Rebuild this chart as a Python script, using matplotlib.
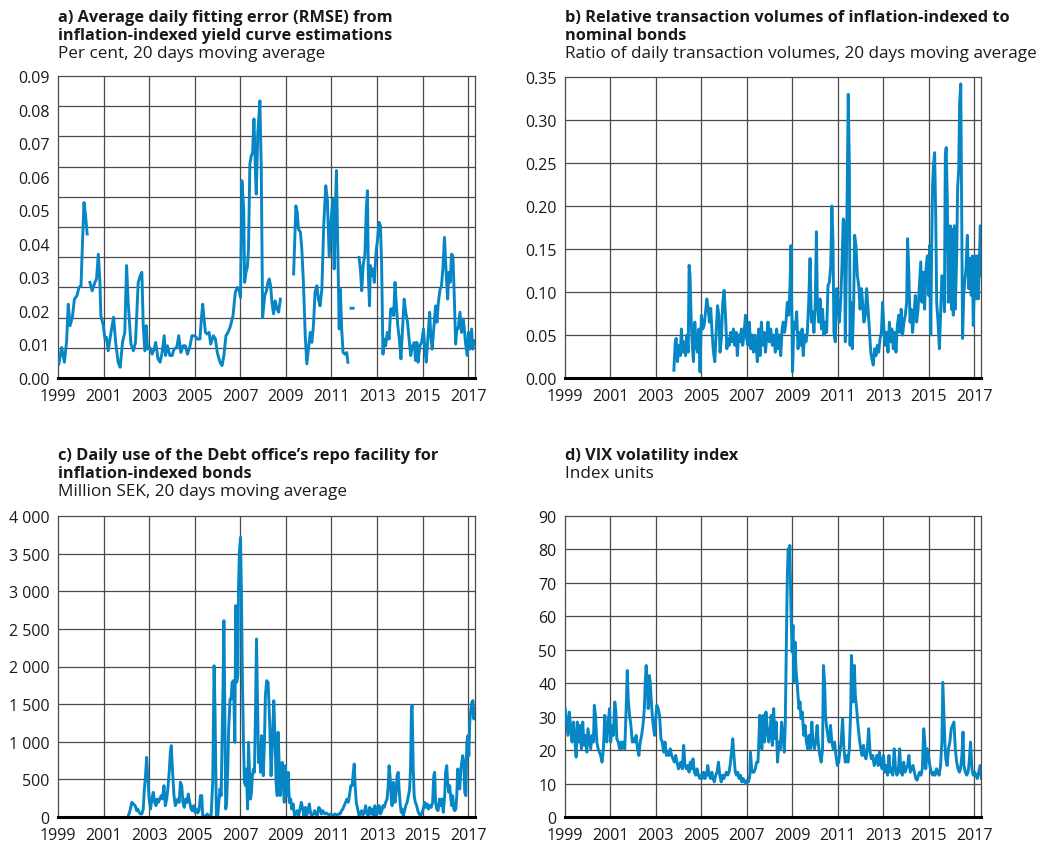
import matplotlib
matplotlib.use('Agg')
import matplotlib.pyplot as plt

nan = float('nan')

# ---------------- data ----------------
x_ticks = [1999, 2001, 2003, 2005, 2007, 2009, 2011, 2013, 2015, 2017]

# a) RMSE, per cent
a_years = [1999.04, 1999.16, 1999.28, 1999.38, 1999.45, 1999.53, 1999.63, 1999.72, 1999.83, 1999.92,
           2000.01, 2000.07, 2000.14, 2000.21, 2000.28, 2000.34,
           2000.40, 2000.50, 2000.62, 2000.69, 2000.77, 2000.84, 2000.88, 2000.99, 2001.06, 2001.13,
           2001.20, 2001.28, 2001.35, 2001.44, 2001.53, 2001.64, 2001.73, 2001.83, 2001.93, 2002.01,
           2002.08, 2002.20, 2002.31, 2002.40, 2002.52, 2002.61, 2002.68, 2002.74, 2002.81, 2002.87,
           2002.93, 2003.03, 2003.13, 2003.22, 2003.29, 2003.39, 2003.48, 2003.57, 2003.66, 2003.72,
           2003.80, 2003.91, 2004.01, 2004.09, 2004.21, 2004.30, 2004.39, 2004.49, 2004.59, 2004.68,
           2004.78, 2004.88, 2005.00, 2005.12, 2005.23, 2005.29, 2005.35, 2005.41, 2005.47, 2005.55,
           2005.63, 2005.70, 2005.82, 2005.91, 2005.99, 2006.11, 2006.20, 2006.28, 2006.37, 2006.46,
           2006.55, 2006.61, 2006.68, 2006.78, 2006.87, 2006.94, 2007.01, 2007.07, 2007.15, 2007.19,
           2007.25, 2007.31, 2007.36, 2007.42, 2007.48, 2007.54, 2007.60, 2007.66, 2007.70, 2007.77,
           2007.86, 2007.92, 2007.98, 2008.07, 2008.15, 2008.21, 2008.27, 2008.33, 2008.39, 2008.46,
           2008.53, 2008.61, 2008.68, 2008.76, 2009.00,
           2009.34, 2009.38, 2009.44, 2009.50, 2009.55, 2009.64, 2009.70, 2009.77, 2009.85, 2009.92,
           2009.99, 2010.07, 2010.14, 2010.21, 2010.28, 2010.36, 2010.43, 2010.50, 2010.58, 2010.66,
           2010.75, 2010.82, 2010.90, 2010.99, 2011.06, 2011.12, 2011.18, 2011.22, 2011.28, 2011.34,
           2011.39, 2011.45, 2011.51, 2011.60, 2011.67, 2011.72, 2011.80,
           2011.86, 2011.95, 2012.10,
           2012.21, 2012.27, 2012.33, 2012.39, 2012.47, 2012.53, 2012.58, 2012.62, 2012.67, 2012.71,
           2012.77, 2012.82, 2012.88, 2012.96, 2013.01, 2013.09, 2013.15, 2013.20, 2013.26, 2013.31,
           2013.38, 2013.45, 2013.53, 2013.60, 2013.67, 2013.73, 2013.79, 2013.85, 2013.91, 2013.98,
           2014.05, 2014.12, 2014.19, 2014.26, 2014.34, 2014.42, 2014.48, 2014.56, 2014.64, 2014.69,
           2014.75, 2014.80, 2014.88, 2014.96, 2015.04, 2015.10, 2015.16, 2015.25, 2015.31, 2015.36,
           2015.42, 2015.48, 2015.57, 2015.63, 2015.69, 2015.77, 2015.83, 2015.89, 2015.96, 2016.04,
           2016.10, 2016.15, 2016.21, 2016.27, 2016.33, 2016.39, 2016.45, 2016.50, 2016.56, 2016.64,
           2016.71, 2016.77, 2016.82, 2016.88, 2016.96, 2017.01, 2017.07, 2017.15, 2017.20, 2017.26]
a_vals = [0.0042, 0.0091, 0.0047, 0.0111, 0.0220, 0.0156, 0.0181, 0.0235, 0.0245, 0.0270,
          0.0275, 0.0394, 0.0523, 0.0484, 0.0429, nan,
          0.0285, 0.0260, 0.0285, 0.0295, 0.0369, 0.0285, 0.0186, 0.0156, 0.0116, 0.0121,
          0.0081, 0.0116, 0.0146, 0.0181, 0.0106, 0.0047, 0.0032, 0.0106, 0.0136, 0.0335,
          0.0225, 0.0101, 0.0081, 0.0106, 0.0285, 0.0305, 0.0315, 0.0156, 0.0081, 0.0156,
          0.0086, 0.0091, 0.0071, 0.0086, 0.0106, 0.0057, 0.0047, 0.0076, 0.0126, 0.0067,
          0.0096, 0.0067, 0.0067, 0.0086, 0.0091, 0.0126, 0.0076, 0.0096, 0.0096, 0.0071,
          0.0091, 0.0126, 0.0126, 0.0116, 0.0116, 0.0176, 0.0220, 0.0176, 0.0136, 0.0131,
          0.0136, 0.0101, 0.0126, 0.0116, 0.0076, 0.0047, 0.0037, 0.0067, 0.0126, 0.0136,
          0.0151, 0.0166, 0.0186, 0.0255, 0.0270, 0.0265, 0.0240, 0.0588, 0.0503, 0.0285,
          0.0315, 0.0330, 0.0384, 0.0637, 0.0662, 0.0672, 0.0772, 0.0623, 0.0548, 0.0732,
          0.0826, 0.0623, 0.0181, 0.0245, 0.0260, 0.0285, 0.0295, 0.0275, 0.0225, 0.0191,
          0.0230, 0.0206, 0.0196, 0.0235, nan,
          0.0310, 0.0394, 0.0513, 0.0494, 0.0444, 0.0434, 0.0384, 0.0285, 0.0126, 0.0042,
          0.0086, 0.0136, 0.0106, 0.0156, 0.0255, 0.0275, 0.0235, 0.0215, 0.0265, 0.0454,
          0.0573, 0.0533, 0.0364, 0.0474, 0.0533, 0.0325, 0.0523, 0.0618, 0.0374, 0.0146,
          0.0265, 0.0146, 0.0076, 0.0071, 0.0076, 0.0047, nan,
          0.0208, 0.0208, nan,
          0.0359, 0.0325, 0.0260, 0.0335, 0.0369, 0.0503, 0.0558, 0.0305, 0.0215, 0.0335,
          0.0305, 0.0325, 0.0285, 0.0379, 0.0404, 0.0464, 0.0454, 0.0345, 0.0071, 0.0116,
          0.0096, 0.0136, 0.0116, 0.0206, 0.0206, 0.0186, 0.0285, 0.0215, 0.0156, 0.0116,
          0.0057, 0.0146, 0.0235, 0.0196, 0.0166, 0.0106, 0.0067, 0.0096, 0.0106, 0.0052,
          0.0106, 0.0047, 0.0096, 0.0106, 0.0146, 0.0086, 0.0047, 0.0136, 0.0196, 0.0126,
          0.0086, 0.0136, 0.0215, 0.0166, 0.0225, 0.0265, 0.0275, 0.0325, 0.0419, 0.0305,
          0.0235, 0.0315, 0.0285, 0.0369, 0.0364, 0.0245, 0.0101, 0.0146, 0.0146, 0.0196,
          0.0136, 0.0176, 0.0156, 0.0106, 0.0067, 0.0136, 0.0086, 0.0146, 0.0086, 0.0111]

# b) ratio of transaction volumes
b_years = [2003.79, 2003.85, 2003.89, 2003.95, 2004.01, 2004.07, 2004.12, 2004.18, 2004.24, 2004.30,
           2004.36, 2004.42, 2004.46, 2004.50, 2004.55, 2004.59, 2004.65, 2004.71, 2004.77, 2004.83,
           2004.89, 2004.94, 2005.00, 2005.06, 2005.12, 2005.18, 2005.24, 2005.30, 2005.35, 2005.41,
           2005.47, 2005.53, 2005.59, 2005.65, 2005.71, 2005.77, 2005.82, 2005.88, 2005.94, 2006.00,
           2006.06, 2006.12, 2006.17, 2006.23, 2006.29, 2006.35, 2006.41, 2006.47, 2006.53, 2006.58,
           2006.64, 2006.70, 2006.76, 2006.82, 2006.88, 2006.94, 2006.99, 2007.05, 2007.11, 2007.17,
           2007.23, 2007.29, 2007.35, 2007.40, 2007.46, 2007.52, 2007.58, 2007.64, 2007.70, 2007.76,
           2007.82, 2007.88, 2007.93, 2007.99, 2008.05, 2008.12, 2008.19, 2008.25, 2008.31, 2008.37,
           2008.43, 2008.49, 2008.55, 2008.60, 2008.66, 2008.72, 2008.78, 2008.84, 2008.90, 2008.94,
           2008.99, 2009.01, 2009.07, 2009.13, 2009.19, 2009.25, 2009.31, 2009.37, 2009.43, 2009.48,
           2009.54, 2009.60, 2009.66, 2009.72, 2009.78, 2009.84, 2009.89, 2009.95, 2010.01, 2010.06,
           2010.10, 2010.16, 2010.22, 2010.28, 2010.33, 2010.39, 2010.45, 2010.51, 2010.57, 2010.63,
           2010.69, 2010.74, 2010.79, 2010.83, 2010.89, 2010.95, 2011.01, 2011.07, 2011.13, 2011.18,
           2011.24, 2011.29, 2011.33, 2011.38, 2011.42, 2011.46, 2011.51, 2011.54, 2011.58, 2011.64,
           2011.70, 2011.74, 2011.80, 2011.86, 2011.92, 2011.98, 2012.04, 2012.09, 2012.15, 2012.21,
           2012.27, 2012.33, 2012.39, 2012.45, 2012.50, 2012.56, 2012.62, 2012.68, 2012.74, 2012.80,
           2012.86, 2012.92, 2012.97, 2013.03, 2013.09, 2013.15, 2013.21, 2013.27, 2013.33, 2013.38,
           2013.44, 2013.50, 2013.56, 2013.62, 2013.68, 2013.74, 2013.79, 2013.85, 2013.91, 2013.97,
           2014.03, 2014.07, 2014.12, 2014.18, 2014.23, 2014.29, 2014.35, 2014.41, 2014.47, 2014.53,
           2014.59, 2014.65, 2014.70, 2014.76, 2014.82, 2014.88, 2014.94, 2015.00, 2015.04, 2015.09,
           2015.13, 2015.17, 2015.22, 2015.26, 2015.31, 2015.35, 2015.41, 2015.47, 2015.52, 2015.58,
           2015.64, 2015.69, 2015.73, 2015.77, 2015.82, 2015.86, 2015.91, 2015.95, 2016.00, 2016.04,
           2016.08, 2016.13, 2016.17, 2016.23, 2016.27, 2016.32, 2016.36, 2016.41, 2016.45, 2016.49,
           2016.54, 2016.58, 2016.64, 2016.70, 2016.76, 2016.82, 2016.87, 2016.92, 2016.96, 2017.01,
           2017.05, 2017.09, 2017.14, 2017.18, 2017.22, 2017.27, 2017.30]
b_vals = [0.009, 0.042, 0.046, 0.019, 0.038, 0.026, 0.057, 0.030, 0.042, 0.026,
          0.050, 0.030, 0.131, 0.119, 0.069, 0.042, 0.019, 0.065, 0.038, 0.030,
          0.057, 0.007, 0.073, 0.057, 0.061, 0.077, 0.092, 0.081, 0.065, 0.081,
          0.053, 0.030, 0.019, 0.053, 0.084, 0.073, 0.030, 0.046, 0.088, 0.102,
          0.073, 0.034, 0.046, 0.038, 0.053, 0.042, 0.057, 0.038, 0.053, 0.026,
          0.050, 0.042, 0.057, 0.038, 0.053, 0.073, 0.046, 0.038, 0.065, 0.034,
          0.050, 0.030, 0.050, 0.042, 0.019, 0.057, 0.026, 0.065, 0.038, 0.053,
          0.030, 0.050, 0.065, 0.042, 0.057, 0.038, 0.050, 0.030, 0.057, 0.034,
          0.050, 0.026, 0.057, 0.065, 0.053, 0.065, 0.088, 0.073, 0.108, 0.154,
          0.053, 0.007, 0.065, 0.057, 0.077, 0.034, 0.053, 0.038, 0.057, 0.026,
          0.050, 0.042, 0.053, 0.088, 0.139, 0.065, 0.077, 0.053, 0.088, 0.170,
          0.088, 0.065, 0.092, 0.057, 0.080, 0.050, 0.065, 0.053, 0.108, 0.111,
          0.131, 0.200, 0.158, 0.053, 0.042, 0.104, 0.088, 0.065, 0.092, 0.127,
          0.185, 0.181, 0.042, 0.135, 0.231, 0.330, 0.243, 0.038, 0.088, 0.034,
          0.088, 0.166, 0.154, 0.119, 0.108, 0.080, 0.104, 0.088, 0.065, 0.073,
          0.104, 0.080, 0.057, 0.030, 0.022, 0.015, 0.034, 0.026, 0.038, 0.030,
          0.046, 0.053, 0.088, 0.057, 0.038, 0.053, 0.030, 0.065, 0.042, 0.057,
          0.034, 0.053, 0.030, 0.061, 0.073, 0.053, 0.080, 0.050, 0.065, 0.073,
          0.088, 0.162, 0.127, 0.065, 0.080, 0.053, 0.073, 0.096, 0.065, 0.080,
          0.108, 0.135, 0.088, 0.123, 0.080, 0.127, 0.142, 0.096, 0.154, 0.050,
          0.154, 0.224, 0.251, 0.262, 0.185, 0.088, 0.065, 0.034, 0.073, 0.119,
          0.115, 0.077, 0.259, 0.268, 0.204, 0.088, 0.119, 0.177, 0.080, 0.173,
          0.073, 0.177, 0.080, 0.142, 0.220, 0.243, 0.320, 0.342, 0.197, 0.046,
          0.096, 0.111, 0.127, 0.166, 0.104, 0.139, 0.096, 0.142, 0.061, 0.111,
          0.142, 0.092, 0.142, 0.092, 0.127, 0.177, 0.119]

# c) repo facility use, million SEK
c_years = [2002.09, 2002.16, 2002.24, 2002.31, 2002.39, 2002.45, 2002.50, 2002.56, 2002.62, 2002.68,
           2002.74, 2002.78, 2002.84, 2002.89, 2002.94, 2003.00, 2003.06, 2003.12, 2003.18, 2003.24,
           2003.30, 2003.35, 2003.41, 2003.47, 2003.53, 2003.59, 2003.65, 2003.71, 2003.77, 2003.82,
           2003.88, 2003.93, 2003.97, 2004.03, 2004.09, 2004.15, 2004.21, 2004.26, 2004.32, 2004.37,
           2004.43, 2004.48, 2004.54, 2004.60, 2004.66, 2004.72, 2004.78, 2004.84, 2004.89, 2004.95,
           2005.01, 2005.07, 2005.13, 2005.19, 2005.25, 2005.31, 2005.35, 2005.41, 2005.50, 2005.55,
           2005.64, 2005.72, 2005.79, 2005.85, 2005.89, 2005.95, 2006.01, 2006.07, 2006.11, 2006.16,
           2006.20, 2006.25, 2006.28, 2006.32, 2006.36, 2006.40, 2006.45, 2006.49, 2006.55, 2006.60,
           2006.64, 2006.70, 2006.76, 2006.80, 2006.84, 2006.89, 2006.92, 2006.96, 2007.01, 2007.05,
           2007.09, 2007.14, 2007.18, 2007.23, 2007.27, 2007.32, 2007.36, 2007.40, 2007.45, 2007.49,
           2007.53, 2007.58, 2007.62, 2007.67, 2007.71, 2007.75, 2007.80, 2007.84, 2007.89, 2007.93,
           2007.97, 2008.01, 2008.06, 2008.10, 2008.16, 2008.22, 2008.29, 2008.35, 2008.41, 2008.47,
           2008.53, 2008.57, 2008.62, 2008.66, 2008.71, 2008.75, 2008.79, 2008.84, 2008.88, 2008.93,
           2008.97, 2009.01, 2009.06, 2009.10, 2009.15, 2009.21, 2009.26, 2009.32, 2009.38, 2009.44,
           2009.50, 2009.56, 2009.62, 2009.68, 2009.74, 2009.79, 2009.85, 2009.91, 2009.97, 2010.03,
           2010.09, 2010.15, 2010.21, 2010.26, 2010.32, 2010.38, 2010.44, 2010.50, 2010.56, 2010.62,
           2010.71, 2010.79, 2010.88, 2010.97, 2011.06, 2011.15, 2011.24, 2011.32, 2011.38, 2011.44,
           2011.50, 2011.56, 2011.62, 2011.68, 2011.74, 2011.79, 2011.85, 2011.91, 2011.96, 2012.00,
           2012.04, 2012.09, 2012.15, 2012.21, 2012.26, 2012.32, 2012.38, 2012.44, 2012.50, 2012.56,
           2012.62, 2012.68, 2012.74, 2012.79, 2012.85, 2012.91, 2012.97, 2013.03, 2013.09, 2013.15,
           2013.21, 2013.26, 2013.32, 2013.38, 2013.44, 2013.49, 2013.53, 2013.57, 2013.62, 2013.66,
           2013.71, 2013.75, 2013.79, 2013.84, 2013.88, 2013.93, 2013.97, 2014.01, 2014.06, 2014.10,
           2014.15, 2014.21, 2014.26, 2014.32, 2014.38, 2014.43, 2014.47, 2014.51, 2014.54, 2014.59,
           2014.63, 2014.68, 2014.74, 2014.79, 2014.85, 2014.91, 2014.97, 2015.03, 2015.09, 2015.15,
           2015.21, 2015.26, 2015.32, 2015.38, 2015.44, 2015.49, 2015.53, 2015.57, 2015.62, 2015.68,
           2015.74, 2015.79, 2015.85, 2015.91, 2015.97, 2016.01, 2016.06, 2016.10, 2016.15, 2016.19,
           2016.24, 2016.28, 2016.32, 2016.37, 2016.41, 2016.46, 2016.50, 2016.54, 2016.59, 2016.63,
           2016.68, 2016.72, 2016.76, 2016.81, 2016.85, 2016.90, 2016.94, 2016.99, 2017.03, 2017.07,
           2017.12, 2017.16, 2017.21, 2017.25, 2017.29]
c_vals = [18, 84, 195, 173, 150, 84, 106, 62, 40, 40,
          106, 328, 549, 793, 549, 239, 106, 239, 328, 195,
          150, 239, 195, 239, 284, 239, 416, 150, 239, 372,
          594, 859, 948, 594, 284, 150, 195, 239, 195, 461,
          416, 195, 128, 239, 195, 306, 195, 106, 84, 150,
          62, 106, 53, 84, 284, 284, 18, 9, 18, 40,
          9, 18, 461, 2011, 1435, 18, 9, 239, 372, 284,
          992, 1878, 2609, 1435, 106, 195, 638, 1169, 1568, 1568,
          1790, 1812, 992, 2809, 1790, 1878, 3030, 3517, 3717, 2986,
          1878, 992, 461, 416, 638, 106, 992, 638, 239, 328,
          549, 638, 594, 1435, 2366, 1612, 726, 904, 594, 1081,
          992, 549, 992, 1612, 1812, 1790, 1258, 549, 992, 1546,
          992, 461, 284, 1125, 682, 284, 594, 726, 461, 195,
          682, 461, 284, 594, 195, 239, 106, 173, 18, 40,
          84, 18, 106, 195, 106, 18, 128, 18, 84, 173,
          40, 18, 40, 84, 40, 18, 128, 106, 40, 84,
          40, 53, 27, 40, 18, 40, 27, 40, 40, 84,
          106, 150, 195, 239, 195, 284, 416, 416, 594, 704,
          416, 195, 106, 18, 40, 84, 27, 62, 150, 40,
          18, 128, 40, 106, 18, 150, 27, 62, 150, 40,
          84, 150, 128, 195, 239, 416, 682, 549, 284, 150,
          461, 284, 195, 328, 549, 594, 372, 195, 62, 106,
          18, 84, 150, 195, 284, 372, 638, 1435, 1480, 638,
          284, 195, 150, 84, 40, 18, 53, 106, 195, 128,
          173, 106, 150, 128, 195, 549, 594, 195, 106, 84,
          239, 150, 239, 62, 284, 594, 682, 461, 328, 416,
          239, 150, 284, 106, 84, 106, 284, 638, 505, 372,
          638, 726, 815, 726, 328, 284, 992, 1081, 815, 1258,
          1435, 1524, 1546, 1302, 1435]

# d) VIX index
d_years = [1999.01, 1999.07, 1999.13, 1999.19, 1999.25, 1999.31, 1999.37, 1999.43, 1999.49, 1999.54,
           1999.60, 1999.66, 1999.72, 1999.78, 1999.84, 1999.90, 1999.96, 2000.01, 2000.07, 2000.13,
           2000.19, 2000.25, 2000.29, 2000.34, 2000.40, 2000.46, 2000.51, 2000.57, 2000.63, 2000.69,
           2000.75, 2000.79, 2000.84, 2000.90, 2000.96, 2001.01, 2001.07, 2001.13, 2001.19, 2001.24,
           2001.28, 2001.34, 2001.40, 2001.46, 2001.51, 2001.57, 2001.63, 2001.69, 2001.74, 2001.78,
           2001.84, 2001.90, 2001.96, 2002.01, 2002.07, 2002.13, 2002.19, 2002.25, 2002.31, 2002.37,
           2002.43, 2002.49, 2002.53, 2002.57, 2002.62, 2002.66, 2002.71, 2002.75, 2002.79, 2002.84,
           2002.88, 2002.94, 2003.00, 2003.04, 2003.10, 2003.16, 2003.22, 2003.28, 2003.34, 2003.40,
           2003.46, 2003.51, 2003.57, 2003.63, 2003.69, 2003.75, 2003.81, 2003.87, 2003.93, 2003.99,
           2004.04, 2004.10, 2004.16, 2004.22, 2004.28, 2004.34, 2004.40, 2004.46, 2004.51, 2004.57,
           2004.63, 2004.69, 2004.75, 2004.81, 2004.87, 2004.93, 2004.99, 2005.04, 2005.10, 2005.16,
           2005.22, 2005.28, 2005.34, 2005.40, 2005.46, 2005.51, 2005.57, 2005.63, 2005.69, 2005.75,
           2005.81, 2005.87, 2005.93, 2005.99, 2006.04, 2006.10, 2006.16, 2006.22, 2006.28, 2006.34,
           2006.38, 2006.43, 2006.49, 2006.54, 2006.60, 2006.66, 2006.72, 2006.78, 2006.84, 2006.90,
           2006.96, 2007.01, 2007.07, 2007.13, 2007.16, 2007.21, 2007.25, 2007.31, 2007.37, 2007.43,
           2007.49, 2007.53, 2007.57, 2007.62, 2007.66, 2007.72, 2007.78, 2007.84, 2007.90, 2007.96,
           2008.01, 2008.07, 2008.12, 2008.18, 2008.23, 2008.29, 2008.35, 2008.41, 2008.47, 2008.53,
           2008.59, 2008.65, 2008.69, 2008.73, 2008.78, 2008.82, 2008.86, 2008.89, 2008.94, 2008.99,
           2009.03, 2009.07, 2009.12, 2009.16, 2009.21, 2009.25, 2009.29, 2009.34, 2009.38, 2009.44,
           2009.50, 2009.56, 2009.62, 2009.68, 2009.74, 2009.80, 2009.86, 2009.91, 2009.97, 2010.03,
           2010.09, 2010.15, 2010.21, 2010.27, 2010.33, 2010.37, 2010.42, 2010.46, 2010.50, 2010.56,
           2010.62, 2010.68, 2010.74, 2010.80, 2010.86, 2010.92, 2010.98, 2011.04, 2011.09, 2011.15,
           2011.21, 2011.27, 2011.33, 2011.39, 2011.45, 2011.51, 2011.57, 2011.60, 2011.64, 2011.68,
           2011.73, 2011.77, 2011.83, 2011.89, 2011.95, 2012.01, 2012.07, 2012.13, 2012.19, 2012.24,
           2012.30, 2012.36, 2012.42, 2012.48, 2012.54, 2012.60, 2012.66, 2012.72, 2012.78, 2012.83,
           2012.89, 2012.95, 2013.01, 2013.07, 2013.13, 2013.19, 2013.25, 2013.31, 2013.37, 2013.42,
           2013.48, 2013.54, 2013.60, 2013.66, 2013.72, 2013.78, 2013.84, 2013.90, 2013.96, 2014.01,
           2014.07, 2014.13, 2014.19, 2014.25, 2014.31, 2014.37, 2014.43, 2014.49, 2014.55, 2014.60,
           2014.66, 2014.72, 2014.78, 2014.83, 2014.87, 2014.93, 2014.99, 2015.05, 2015.11, 2015.17,
           2015.22, 2015.28, 2015.34, 2015.40, 2015.46, 2015.52, 2015.58, 2015.62, 2015.67, 2015.71,
           2015.75, 2015.81, 2015.87, 2015.93, 2015.99, 2016.05, 2016.11, 2016.17, 2016.23, 2016.29,
           2016.35, 2016.40, 2016.46, 2016.51, 2016.55, 2016.61, 2016.67, 2016.73, 2016.78, 2016.84,
           2016.90, 2016.96, 2017.02, 2017.08, 2017.14, 2017.20, 2017.26, 2017.32]
d_vals = [32.4, 28.4, 24.4, 31.4, 26.4, 22.4, 28.4, 23.4, 17.9, 28.4,
          22.4, 27.4, 20.4, 28.4, 21.4, 24.4, 19.4, 26.4, 23.4, 20.4,
          24.4, 22.4, 33.4, 30.4, 22.4, 20.4, 19.4, 18.4, 16.4, 20.4,
          30.4, 26.4, 22.4, 28.4, 32.4, 22.4, 27.4, 24.4, 34.4, 31.4,
          23.4, 22.4, 20.4, 22.4, 20.4, 22.4, 20.4, 32.4, 43.8, 35.4,
          30.4, 27.4, 22.4, 23.4, 22.4, 24.4, 20.4, 18.4, 22.4, 24.4,
          27.4, 32.4, 40.3, 45.3, 39.3, 32.4, 42.3, 40.3, 35.4, 30.4,
          27.4, 24.4, 30.4, 33.4, 32.4, 30.4, 23.4, 22.4, 19.4, 22.4,
          18.4, 19.4, 18.4, 20.4, 18.4, 17.4, 16.4, 18.4, 16.4, 14.4,
          15.4, 16.4, 14.4, 21.4, 15.4, 14.4, 15.4, 13.4, 16.4, 14.4,
          17.4, 13.4, 12.5, 14.4, 12.5, 11.5, 12.5, 11.5, 13.4, 11.5,
          12.5, 15.4, 12.5, 11.5, 13.4, 11.5, 10.5, 12.5, 13.4, 16.4,
          12.5, 10.5, 12.5, 11.5, 12.5, 13.4, 12.5, 13.4, 16.4, 20.4,
          23.4, 18.4, 13.4, 12.5, 13.4, 11.5, 12.5, 10.5, 11.5, 10.5,
          10.0, 11.0, 10.5, 12.5, 19.4, 14.4, 13.4, 13.4, 14.4, 16.4,
          16.4, 23.4, 30.4, 24.4, 20.4, 30.4, 22.4, 31.4, 26.4, 22.4,
          24.4, 30.4, 21.4, 32.4, 23.4, 28.4, 16.4, 22.4, 20.4, 28.4,
          23.4, 19.4, 28.4, 47.3, 72.2, 80.2, 74.2, 81.2, 62.3, 49.3,
          57.3, 40.3, 52.3, 44.3, 40.3, 36.4, 32.4, 34.4, 29.4, 31.4,
          24.4, 27.4, 22.4, 20.4, 24.4, 20.4, 28.4, 22.4, 20.4, 22.4,
          27.4, 21.4, 18.4, 16.4, 20.4, 45.3, 40.3, 30.4, 27.4, 24.4,
          22.4, 27.4, 22.4, 20.4, 22.4, 18.4, 15.4, 16.4, 19.4, 22.4,
          29.4, 20.4, 16.4, 18.4, 16.4, 20.4, 32.4, 48.3, 42.3, 34.4,
          45.3, 36.4, 32.4, 27.4, 23.4, 20.4, 18.4, 21.4, 18.4, 17.4,
          20.4, 26.4, 19.4, 17.4, 18.4, 15.4, 16.4, 18.4, 15.4, 19.4,
          16.4, 14.4, 18.4, 13.4, 15.4, 12.5, 18.4, 13.4, 14.4, 12.5,
          20.4, 14.4, 12.5, 13.4, 20.4, 13.4, 12.5, 16.4, 13.4, 14.4,
          15.4, 18.4, 13.4, 14.4, 15.4, 13.4, 11.5, 11.0, 12.5, 13.4,
          12.5, 14.4, 26.4, 22.4, 14.4, 20.4, 18.4, 15.4, 13.4, 12.5,
          13.4, 12.5, 14.4, 13.4, 12.5, 15.4, 22.4, 40.3, 30.4, 22.4,
          17.4, 15.4, 20.4, 22.4, 26.4, 27.4, 28.4, 20.4, 16.4, 14.4,
          13.4, 14.4, 18.4, 25.4, 15.4, 13.4, 12.5, 13.4, 16.4, 22.4,
          14.4, 12.5, 13.4, 12.5, 11.5, 13.4, 15.4, 11.5]

# ---------------- figure ----------------
W, H = 1043, 845
fig = plt.figure(figsize=(W / 100, H / 100), dpi=100)
plt.rcParams['font.family'] = ['Open Sans', 'DejaVu Sans']

LINE = '#0786C6'
GRID = '#4a4a4a'
TXT = '#1a1a1a'


def axes_px(l, t, r, b):
    return fig.add_axes([l / W, 1 - b / H, (r - l) / W, (b - t) / H])


def style(ax, ymax, yticks, ylabels, hgrid):
    ax.set_xlim(1999, 2017.3)
    ax.set_ylim(0, ymax)
    ax.set_xticks(x_ticks)
    ax.set_xticklabels([str(y) for y in x_ticks])
    ax.set_yticks(yticks)
    ax.set_yticklabels(ylabels)
    for x in x_ticks[1:]:
        ax.axvline(x, color=GRID, lw=0.9, zorder=1)
    for h in hgrid:
        ax.axhline(h, color=GRID, lw=0.9, zorder=1)
    ax.tick_params(length=0, labelsize=11.5, colors=TXT)
    ax.tick_params(axis='x', pad=7)
    ax.tick_params(axis='y', pad=6)
    for s in ['left', 'top', 'right']:
        ax.spines[s].set_color(GRID)
        ax.spines[s].set_linewidth(0.9)
    ax.spines['bottom'].set_color('black')
    ax.spines['bottom'].set_linewidth(2.2)
    ax.spines['bottom'].set_zorder(5)


def draw(ax, xs, ys):
    ax.plot(xs, ys, color=LINE, lw=2.1, solid_joinstyle='round', zorder=3)


def title(x, y_list, lines, sub):
    for y, t in zip(y_list, lines):
        fig.text(x / W, 1 - y / H, t, fontsize=11.8, fontweight='bold', color=TXT, va='baseline')
    if sub is not None:
        fig.text(x / W, 1 - y_list[len(lines)] / H, sub, fontsize=12.3, color=TXT, va='baseline')


# a
ax_a = axes_px(58, 77, 475, 379)
a_ticks = [i / 100 for i in range(10)]
style(ax_a, 0.09, a_ticks, [f"{v:.2f}" for v in a_ticks], [i * 0.009 for i in range(1, 10)])
draw(ax_a, a_years, a_vals)
title(58, [22, 40, 58], ["a) Average daily fitting error (RMSE) from",
                         "inflation-indexed yield curve estimations"],
      "Per cent, 20 days moving average")

# b
ax_b = axes_px(565, 78, 981, 379)
b_ticks = [i * 0.05 for i in range(8)]
style(ax_b, 0.35, b_ticks, [f"{v:.2f}" for v in b_ticks], b_ticks[1:-1])
draw(ax_b, b_years, b_vals)
title(565, [22, 40, 58], ["b) Relative transaction volumes of inflation-indexed to",
                          "nominal bonds"],
      "Ratio of daily transaction volumes, 20 days moving average")

# c
ax_c = axes_px(58, 517, 475, 818)
c_ticks = list(range(0, 4001, 500))
style(ax_c, 4000, c_ticks, [f"{v:,}".replace(',', ' ') for v in c_ticks], c_ticks[1:-1])
draw(ax_c, c_years, c_vals)
title(58, [460, 478, 496], ["c) Daily use of the Debt office\u2019s repo facility for",
                            "inflation-indexed bonds"],
      "Million SEK, 20 days moving average")

# d
ax_d = axes_px(565, 517, 981, 818)
d_ticks = list(range(0, 91, 10))
style(ax_d, 90, d_ticks, [str(v) for v in d_ticks], d_ticks[1:-1])
draw(ax_d, d_years, d_vals)
title(565, [460, 478], ["d) VIX volatility index"], "Index units")

fig.savefig('out.png', dpi=100)
